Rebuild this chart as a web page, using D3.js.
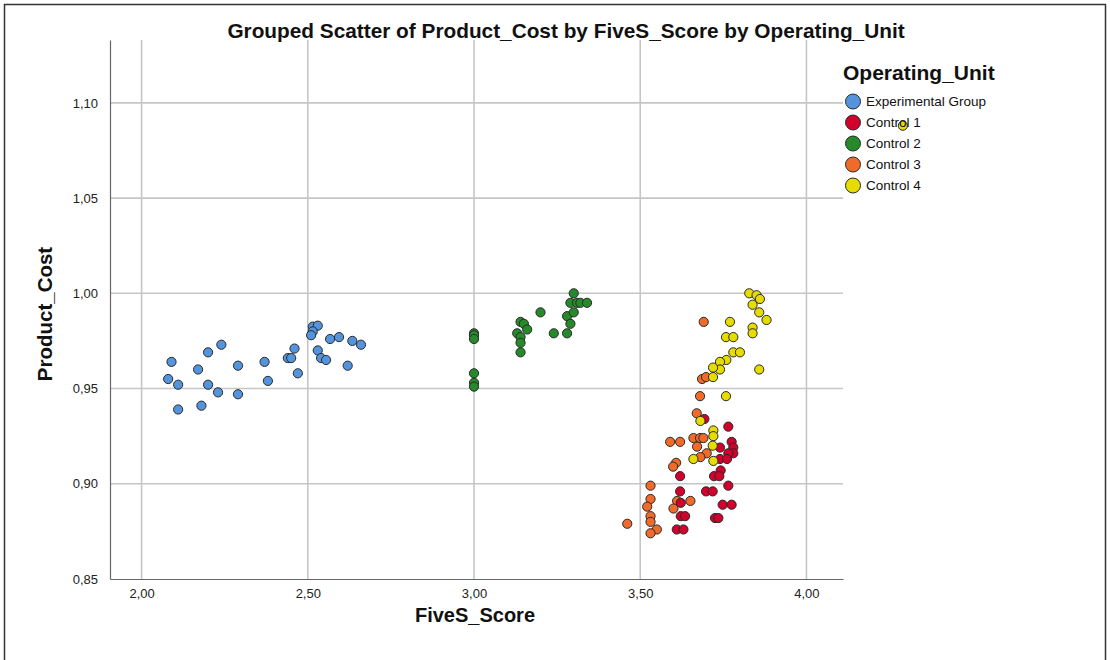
<!DOCTYPE html>
<html>
<head>
<meta charset="utf-8">
<script src="https://cdn.jsdelivr.net/npm/d3@7"></script>
<style>
  body { margin: 0; background: #fff; }
  text { font-family: "Liberation Sans", Arial, sans-serif; }
</style>
</head>
<body>
<div id="chart"></div>
<script>
// [FiveS_Score, Product_Cost]
const experimentalGroup = [
  [2.09, 0.964], [2.08, 0.955], [2.11, 0.952], [2.11, 0.939], [2.17, 0.960],
  [2.20, 0.969], [2.20, 0.952], [2.18, 0.941], [2.23, 0.948], [2.24, 0.973],
  [2.29, 0.962], [2.29, 0.947], [2.37, 0.964], [2.38, 0.954], [2.44, 0.966],
  [2.45, 0.966], [2.46, 0.971], [2.47, 0.958], [2.515, 0.9825], [2.53, 0.983],
  [2.515, 0.980], [2.51, 0.978], [2.53, 0.970], [2.54, 0.966], [2.555, 0.965],
  [2.567, 0.976], [2.594, 0.977], [2.62, 0.962], [2.634, 0.975], [2.66, 0.973]
];
const control1 = [
  [3.693, 0.934], [3.765, 0.930], [3.775, 0.922], [3.740, 0.919], [3.780, 0.919],
  [3.780, 0.916], [3.765, 0.916], [3.740, 0.913], [3.761, 0.913], [3.742, 0.907],
  [3.620, 0.904], [3.722, 0.904], [3.738, 0.904], [3.765, 0.899], [3.698, 0.896],
  [3.718, 0.896], [3.620, 0.896], [3.622, 0.890], [3.748, 0.889], [3.775, 0.889],
  [3.622, 0.883], [3.635, 0.883], [3.725, 0.882], [3.735, 0.882], [3.610, 0.876],
  [3.630, 0.876]
];
const control2 = [
  [3.00, 0.979], [3.00, 0.978], [3.00, 0.976], [3.00, 0.958], [3.00, 0.953],
  [3.00, 0.951], [3.14, 0.985], [3.15, 0.984], [3.16, 0.981], [3.13, 0.979],
  [3.14, 0.977], [3.14, 0.974], [3.14, 0.969], [3.20, 0.990], [3.24, 0.979],
  [3.28, 0.979], [3.28, 0.988], [3.29, 0.984], [3.30, 0.990], [3.29, 0.995],
  [3.31, 0.995], [3.30, 1.000], [3.32, 0.995], [3.34, 0.995]
];
const control3 = [
  [3.691, 0.985], [3.686, 0.955], [3.698, 0.956], [3.680, 0.946], [3.670, 0.937],
  [3.590, 0.922], [3.620, 0.922], [3.660, 0.924], [3.680, 0.924], [3.690, 0.924],
  [3.671, 0.9195], [3.700, 0.916], [3.681, 0.914], [3.608, 0.911], [3.599, 0.909],
  [3.531, 0.899], [3.531, 0.892], [3.611, 0.891], [3.651, 0.891], [3.521, 0.888],
  [3.600, 0.887], [3.531, 0.883], [3.531, 0.880], [3.461, 0.879], [3.550, 0.876],
  [3.531, 0.874]
];
const control4 = [
  [3.828, 1.000], [3.850, 0.999], [3.860, 0.997], [3.838, 0.994], [3.858, 0.990],
  [3.880, 0.986], [3.770, 0.985], [3.838, 0.982], [3.838, 0.979], [3.758, 0.977],
  [3.780, 0.977], [3.780, 0.969], [3.800, 0.969], [3.759, 0.965], [3.740, 0.964],
  [3.740, 0.960], [3.719, 0.961], [3.719, 0.956], [3.858, 0.960], [3.758, 0.946],
  [3.681, 0.933], [3.720, 0.928], [3.720, 0.925], [3.718, 0.920], [3.660, 0.913],
  [3.720, 0.912], [4.290, 1.088]
];

const unitNames = ['Experimental Group', 'Control 1', 'Control 2', 'Control 3', 'Control 4'];
const unitColors = ['#5394dc', '#d2002c', '#26892a', '#f06a2a', '#e6dc00'];
const xTicks = [2.0, 2.5, 3.0, 3.5, 4.0];
const yTicks = [0.85, 0.90, 0.95, 1.00, 1.05, 1.10];

const width = 1110;
const height = 660;
const plot = { left: 110, right: 843, top: 40, bottom: 579 };

const svg = d3.select('#chart')
  .append('svg')
  .attr('width', width)
  .attr('height', height);

// outer frame
svg.append('rect')
  .attr('x', 4.5).attr('y', 4.5)
  .attr('width', 1101).attr('height', 700)
  .attr('fill', 'none')
  .attr('stroke', '#333')
  .attr('stroke-width', 1.5);

const x = d3.scaleLinear().domain([1.905, 4.11]).range([plot.left, plot.right]);
const y = d3.scaleLinear().domain([0.85, 1.133]).range([plot.bottom, plot.top]);

const comma = v => d3.format('.2f')(v).replace('.', ',');

// gridlines
svg.append('g')
  .selectAll('line')
  .data(xTicks)
  .enter()
  .append('line')
  .attr('x1', d => x(d)).attr('x2', d => x(d))
  .attr('y1', plot.top).attr('y2', plot.bottom)
  .attr('stroke', '#c6c6c6')
  .attr('stroke-width', 1.6);

svg.append('g')
  .selectAll('line')
  .data(yTicks.slice(1))
  .enter()
  .append('line')
  .attr('x1', plot.left).attr('x2', plot.right)
  .attr('y1', d => y(d)).attr('y2', d => y(d))
  .attr('stroke', '#c6c6c6')
  .attr('stroke-width', 1.6);

// axes
const xAxis = svg.append('g')
  .attr('transform', `translate(0,${plot.bottom})`)
  .call(d3.axisBottom(x).tickValues(xTicks).tickFormat(comma).tickSize(0).tickPadding(10));
const yAxis = svg.append('g')
  .attr('transform', `translate(${plot.left},0)`)
  .call(d3.axisLeft(y).tickValues(yTicks).tickFormat(comma).tickSize(0).tickPadding(12));

[xAxis, yAxis].forEach(g => {
  g.select('.domain').attr('stroke', '#666').attr('stroke-width', 1.2);
  g.selectAll('text')
    .attr('font-family', '"Liberation Sans", Arial, sans-serif')
    .attr('font-size', '13px')
    .attr('fill', '#222');
});

// points
const groups = [experimentalGroup, control1, control2, control3, control4];
const drawOrder = [0, 2, 3, 1, 4];
drawOrder.forEach(i => {
  svg.append('g')
    .selectAll('circle')
    .data(groups[i])
    .enter()
    .append('circle')
    .attr('cx', d => x(d[0]))
    .attr('cy', d => y(d[1]))
    .attr('r', 4.6)
    .attr('fill', unitColors[i])
    .attr('stroke', '#2a2a2a')
    .attr('stroke-width', 1);
});

// titles
svg.append('text')
  .attr('x', 566).attr('y', 38)
  .attr('text-anchor', 'middle')
  .attr('font-size', '20.8px')
  .attr('font-weight', 'bold')
  .attr('fill', '#111')
  .text('Grouped Scatter of Product_Cost by FiveS_Score by Operating_Unit');

svg.append('text')
  .attr('x', 475).attr('y', 622)
  .attr('text-anchor', 'middle')
  .attr('font-size', '20px')
  .attr('font-weight', 'bold')
  .attr('fill', '#111')
  .text('FiveS_Score');

svg.append('text')
  .attr('transform', 'translate(52,314) rotate(-90)')
  .attr('text-anchor', 'middle')
  .attr('font-size', '20.5px')
  .attr('font-weight', 'bold')
  .attr('fill', '#111')
  .text('Product_Cost');

// legend
const legend = svg.append('g').attr('transform', 'translate(853,0)');
legend.append('text')
  .attr('x', -10).attr('y', 80)
  .attr('font-size', '21px')
  .attr('font-weight', 'bold')
  .attr('fill', '#111')
  .text('Operating_Unit');

const items = legend.selectAll('g.item')
  .data(unitNames)
  .enter()
  .append('g')
  .attr('class', 'item')
  .attr('transform', (d, i) => `translate(0,${101.5 + i * 21})`);

items.append('circle')
  .attr('r', 7.5)
  .attr('fill', (d, i) => unitColors[i])
  .attr('stroke', '#2a2a2a')
  .attr('stroke-width', 1);

items.append('text')
  .attr('x', 13)
  .attr('dy', '0.35em')
  .attr('font-size', '13.5px')
  .attr('fill', '#111')
  .text(d => d);
</script>
</body>
</html>
